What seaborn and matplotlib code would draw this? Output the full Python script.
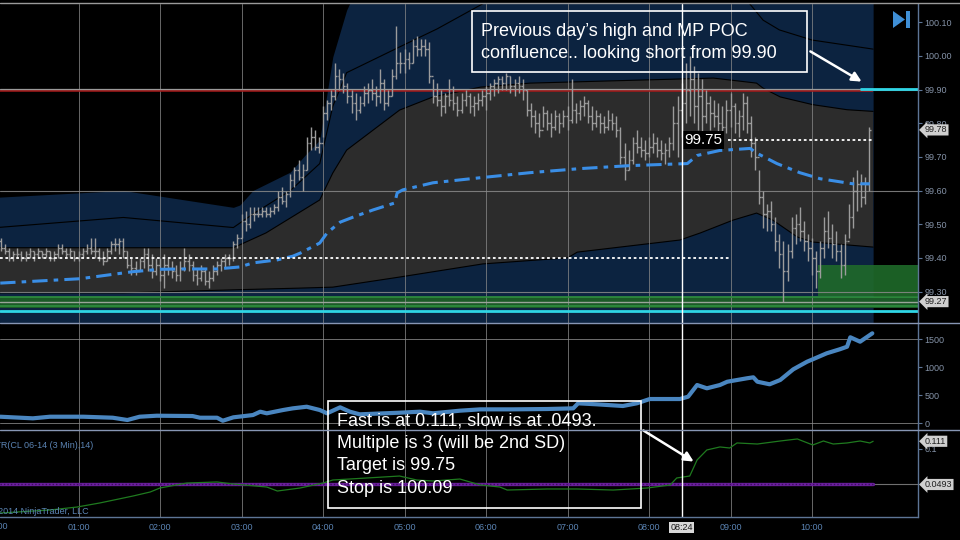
# CL 06-14 3 min chart: price bars with VWAP bands, cumulative line, ATR fast/slow
import numpy as np
import matplotlib
matplotlib.use("Agg")
import matplotlib.pyplot as plt
from matplotlib.patches import Rectangle, Polygon, FancyArrowPatch
import seaborn as sns

# ---------------- data ----------------
# 3 minute bars from 00:00, one row per hour
highs = [
    99.46, 99.46, 99.44, 99.43, 99.42, 99.43, 99.42, 99.42, 99.43, 99.42, 99.43, 99.42, 99.43, 99.42, 99.42, 99.44, 99.44, 99.43, 99.43, 99.42,
    99.42, 99.43, 99.44, 99.46, 99.46, 99.43, 99.42, 99.43, 99.45, 99.46, 99.46, 99.46, 99.42, 99.40, 99.39, 99.40, 99.43, 99.43, 99.41, 99.40,
    99.40, 99.41, 99.40, 99.39, 99.38, 99.39, 99.43, 99.41, 99.39, 99.37, 99.38, 99.37, 99.36, 99.38, 99.39, 99.40, 99.41, 99.41, 99.45, 99.47,
    99.53, 99.54, 99.55, 99.55, 99.55, 99.55, 99.55, 99.55, 99.56, 99.60, 99.61, 99.60, 99.65, 99.67, 99.69, 99.68, 99.76, 99.79, 99.78, 99.76,
    99.85, 99.87, 99.90, 99.98, 99.96, 99.95, 99.92, 99.90, 99.89, 99.88, 99.91, 99.92, 99.93, 99.91, 99.96, 99.93, 99.90, 99.96, 100.09, 100.01,
    100.02, 100.01, 100.05, 100.06, 100.05, 100.05, 100.04, 99.93, 99.92, 99.90, 99.89, 99.93, 99.91, 99.88, 99.89, 99.90, 99.89, 99.88, 99.89, 99.90,
    99.91, 99.92, 99.93, 99.94, 99.94, 99.95, 99.94, 99.93, 99.94, 99.93, 99.90, 99.86, 99.84, 99.83, 99.85, 99.84, 99.83, 99.84, 99.83, 99.84,
    99.85, 99.93, 99.86, 99.87, 99.88, 99.87, 99.85, 99.84, 99.83, 99.82, 99.84, 99.83, 99.82, 99.79, 99.74, 99.72, 99.76, 99.78, 99.76, 99.75,
    99.76, 99.77, 99.76, 99.75, 99.74, 99.76, 99.85, 99.88, 99.92, 99.98, 100.00, 99.97, 99.95, 99.93, 99.90, 99.88, 99.87, 99.86, 99.85, 99.87,
    99.89, 99.86, 99.84, 99.89, 99.88, 99.82, 99.76, 99.66, 99.60, 99.56, 99.57, 99.52, 99.47, 99.45, 99.44, 99.52, 99.53, 99.55, 99.51, 99.47,
    99.46, 99.42, 99.45, 99.52, 99.54, 99.50, 99.48, 99.44, 99.47, 99.56, 99.64, 99.66, 99.65, 99.64, 99.79,
]
lows = [
    99.43, 99.42, 99.41, 99.39, 99.39, 99.40, 99.39, 99.39, 99.40, 99.39, 99.40, 99.40, 99.40, 99.39, 99.39, 99.40, 99.41, 99.40, 99.40, 99.39,
    99.39, 99.40, 99.41, 99.41, 99.40, 99.39, 99.38, 99.39, 99.41, 99.42, 99.41, 99.40, 99.37, 99.35, 99.35, 99.36, 99.37, 99.36, 99.34, 99.35,
    99.33, 99.31, 99.35, 99.34, 99.33, 99.33, 99.36, 99.36, 99.33, 99.32, 99.33, 99.32, 99.31, 99.33, 99.35, 99.36, 99.37, 99.38, 99.39, 99.43,
    99.46, 99.48, 99.49, 99.51, 99.52, 99.52, 99.52, 99.52, 99.53, 99.54, 99.56, 99.55, 99.58, 99.61, 99.63, 99.60, 99.66, 99.72, 99.72, 99.71,
    99.76, 99.81, 99.84, 99.87, 99.90, 99.89, 99.86, 99.83, 99.81, 99.83, 99.85, 99.86, 99.87, 99.85, 99.86, 99.84, 99.85, 99.88, 99.93, 99.95,
    99.95, 99.96, 99.98, 100.00, 100.00, 100.00, 99.92, 99.86, 99.85, 99.82, 99.83, 99.85, 99.84, 99.82, 99.83, 99.85, 99.83, 99.82, 99.84, 99.85,
    99.84, 99.87, 99.88, 99.89, 99.90, 99.90, 99.89, 99.88, 99.89, 99.87, 99.82, 99.79, 99.77, 99.76, 99.79, 99.78, 99.76, 99.78, 99.77, 99.79,
    99.78, 99.80, 99.80, 99.81, 99.82, 99.80, 99.78, 99.79, 99.77, 99.77, 99.78, 99.78, 99.76, 99.68, 99.63, 99.66, 99.68, 99.71, 99.70, 99.69,
    99.70, 99.71, 99.70, 99.69, 99.68, 99.70, 99.72, 99.70, 99.76, 99.80, 99.82, 99.80, 99.78, 99.77, 99.80, 99.78, 99.79, 99.77, 99.75, 99.77,
    99.79, 99.77, 99.76, 99.78, 99.77, 99.70, 99.66, 99.56, 99.49, 99.48, 99.48, 99.42, 99.37, 99.27, 99.33, 99.40, 99.44, 99.45, 99.42, 99.39,
    99.35, 99.31, 99.34, 99.40, 99.43, 99.40, 99.39, 99.34, 99.35, 99.46, 99.49, 99.54, 99.55, 99.56, 99.60,
]
closes = [
    99.45, 99.43, 99.42, 99.40, 99.41, 99.41, 99.40, 99.41, 99.42, 99.41, 99.42, 99.41, 99.42, 99.40, 99.41, 99.43, 99.42, 99.41, 99.42, 99.40,
    99.41, 99.42, 99.43, 99.42, 99.42, 99.40, 99.39, 99.42, 99.44, 99.44, 99.45, 99.42, 99.38, 99.37, 99.36, 99.39, 99.41, 99.38, 99.36, 99.38,
    99.35, 99.38, 99.37, 99.36, 99.35, 99.37, 99.39, 99.38, 99.35, 99.34, 99.36, 99.33, 99.34, 99.36, 99.38, 99.39, 99.40, 99.40, 99.44, 99.46,
    99.51, 99.50, 99.53, 99.53, 99.53, 99.54, 99.53, 99.54, 99.55, 99.58, 99.57, 99.59, 99.63, 99.66, 99.64, 99.66, 99.74, 99.76, 99.73, 99.74,
    99.83, 99.86, 99.88, 99.94, 99.93, 99.91, 99.88, 99.86, 99.84, 99.86, 99.89, 99.90, 99.89, 99.88, 99.92, 99.86, 99.88, 99.94, 99.98, 99.98,
    99.99, 99.98, 100.03, 100.02, 100.03, 100.02, 99.94, 99.88, 99.87, 99.85, 99.88, 99.87, 99.86, 99.84, 99.87, 99.88, 99.85, 99.86, 99.87, 99.88,
    99.89, 99.91, 99.92, 99.93, 99.92, 99.94, 99.91, 99.92, 99.91, 99.90, 99.84, 99.82, 99.80, 99.78, 99.83, 99.80, 99.79, 99.82, 99.80, 99.82,
    99.81, 99.84, 99.83, 99.85, 99.86, 99.82, 99.80, 99.82, 99.80, 99.79, 99.81, 99.80, 99.78, 99.70, 99.66, 99.69, 99.74, 99.73, 99.72, 99.71,
    99.73, 99.74, 99.72, 99.71, 99.72, 99.74, 99.80, 99.84, 99.86, 99.90, 99.93, 99.85, 99.88, 99.82, 99.86, 99.83, 99.82, 99.80, 99.79, 99.84,
    99.85, 99.80, 99.82, 99.86, 99.80, 99.74, 99.70, 99.58, 99.53, 99.54, 99.50, 99.45, 99.41, 99.36, 99.42, 99.49, 99.50, 99.48, 99.45, 99.43,
    99.40, 99.36, 99.43, 99.48, 99.46, 99.44, 99.42, 99.38, 99.45, 99.52, 99.60, 99.62, 99.58, 99.62, 99.78,
]

# VWAP (hours, price)
vwap_t = [0.04, 1.02, 1.67, 2.0, 2.33, 2.7, 2.98, 3.14, 3.44, 3.63, 3.72, 3.96, 4.05, 4.21, 4.37, 4.61, 4.88,
          4.91, 4.98, 5.35, 5.93, 6.54, 7.15, 7.77, 8.47, 8.59, 8.87, 9.24, 9.33, 9.57, 9.85, 10.1, 10.5, 10.71]
vwap_v = [99.325, 99.338, 99.359, 99.366, 99.367, 99.367, 99.373, 99.385, 99.394, 99.405, 99.414, 99.444, 99.474,
          99.506, 99.521, 99.542, 99.563, 99.593, 99.602, 99.623, 99.638, 99.653, 99.665, 99.674, 99.68, 99.704,
          99.719, 99.725, 99.71, 99.68, 99.653, 99.635, 99.62, 99.62]

# outer (navy) band top edge
outer_t = [0.0, 1.55, 2.9, 2.98, 3.14, 3.6, 3.78, 3.96, 4.12, 4.29, 4.6, 10.75]
outer_v = [99.58, 99.60, 99.55, 99.557, 99.60, 99.655, 99.705, 99.75, 99.997, 100.136, 100.30, 100.30]
outer_low = 99.10

# inner (grey) band
inner_up_t = [0.0, 1.55, 2.9, 3.3, 3.96, 4.12, 4.29, 4.94, 5.35, 5.93, 6.54, 8.79, 9.32, 9.4, 9.61, 10.01, 10.43, 10.75]
inner_up_v = [99.43, 99.43, 99.43, 99.474, 99.572, 99.652, 99.72, 99.839, 99.878, 99.907, 99.919, 99.934,
              99.919, 99.904, 99.878, 99.855, 99.84, 99.835]
inner_lo_t = [0.0, 1.55, 2.9, 3.7, 4.12, 4.94, 5.96, 7.0, 7.12, 8.38, 8.63, 9.03, 9.32, 9.52, 9.82, 10.01, 10.75]
inner_lo_v = [99.296, 99.296, 99.305, 99.31, 99.313, 99.343, 99.382, 99.40, 99.417, 99.453, 99.474, 99.512,
              99.533, 99.512, 99.462, 99.447, 99.432]

# thin line inside the upper navy band
band_line_t = [0.0, 1.55, 2.9, 3.14, 3.6, 3.96, 4.12, 4.29, 4.97, 5.4, 6.0, 6.5, 8.0, 9.15, 9.4, 9.6, 10.0, 10.75]
band_line_v = [99.49, 99.52, 99.49, 99.53, 99.60, 99.68, 99.85, 99.95, 100.03, 100.08, 100.16, 100.25, 100.30,
               100.18, 100.106, 100.077, 100.047, 100.02]

# cumulative line (middle panel)
cum_t = [0.04, 0.44, 0.65, 1.06, 1.42, 1.6, 1.75, 1.96, 2.4, 2.49, 2.7, 2.77, 2.9, 3.14, 3.23, 3.31, 3.51, 3.63,
         3.8, 3.96, 4.05, 4.21, 4.33, 4.45, 4.94, 5.19, 5.35, 5.68, 5.93, 6.33, 6.75, 7.07, 7.13, 7.36, 7.68, 7.85,
         8.01, 8.38, 8.48, 8.59, 8.71, 8.87, 8.96, 9.2, 9.28, 9.33, 9.48, 9.61, 9.77, 9.94, 10.01, 10.18, 10.34,
         10.43, 10.47, 10.59, 10.71, 10.74]
cum_v = [113, 84, 113, 113, 95, 54, 113, 131, 125, 95, 95, 41, 102, 143, 203, 174, 233, 263, 292, 233, 174, 281,
         203, 156, 185, 203, 174, 221, 245, 245, 251, 263, 353, 335, 305, 353, 430, 430, 472, 681, 622, 681, 740,
         801, 819, 740, 694, 771, 962, 1099, 1142, 1249, 1321, 1367, 1536, 1457, 1577, 1607]

# ATR fast and slow (bottom panel)
atr_t = [0.04, 0.65, 0.98, 1.26, 1.67, 1.88, 2.0, 2.33, 2.7, 2.9, 3.31, 3.44, 3.72, 4.0, 4.12, 4.54, 4.94, 5.15,
         5.35, 5.68, 5.93, 6.17, 6.26, 6.75, 7.12, 7.56, 7.98, 8.26, 8.34, 8.5, 8.59, 8.71, 8.87, 8.99, 9.08, 9.33,
         9.61, 9.82, 10.01, 10.14, 10.26, 10.43, 10.59, 10.71, 10.75]
atr_v = [0.0086, 0.0129, 0.0171, 0.0229, 0.0329, 0.0386, 0.0443, 0.0514, 0.0529, 0.05, 0.0457, 0.04, 0.0443,
         0.0514, 0.0557, 0.0586, 0.0614, 0.0557, 0.0543, 0.0571, 0.0486, 0.0457, 0.0414, 0.0429, 0.0429, 0.0414,
         0.0443, 0.0486, 0.0586, 0.0614, 0.0843, 0.0986, 0.1029, 0.1014, 0.1086, 0.1071, 0.1114, 0.1143, 0.1057,
         0.1114, 0.1071, 0.1086, 0.1114, 0.1086, 0.111]
slow_t = [0.04, 10.75]
slow_v = [0.0493, 0.0493]

price_ticks = [99.30, 99.40, 99.50, 99.60, 99.70, 99.80, 99.90, 100.00, 100.10]
price_grid = [99.30, 99.60, 99.90]
cum_ticks = [0, 500, 1000, 1500]
hours = list(range(0, 11))
hour_labels = ["%02d:00" % h for h in hours]

# ---------------- style ----------------
sns.set_theme(style="dark", rc={"axes.facecolor": "black", "figure.facecolor": "black"})
plt.rcParams["font.family"] = ["Liberation Sans", "DejaVu Sans"]

W, H = 960, 540
XMIN, XMAX = 3 / 81.5, 921 / 81.5
NAVY = "#0c2340"
GREY_BAND = "#2c2c2c"
GRID = "#8a8a8a"
AXIS = "#5d7596"
LABEL = "#8593a8"
TIME = "#5b84b4"


def P(x, y):
    return (x / W, 1 - y / H)


def panel(top, bottom):
    return [0, 1 - bottom / H, 918 / W, (bottom - top) / H]


fig = plt.figure(figsize=(9.6, 5.4), dpi=100, facecolor="black")
ax_p = fig.add_axes(panel(4, 323))
ax_c = fig.add_axes(panel(323, 430))
ax_a = fig.add_axes(panel(430, 517))

for ax in (ax_p, ax_c, ax_a):
    ax.set_facecolor("black")
    ax.set_xlim(XMIN, XMAX)
    ax.grid(False)
    for s in ("left", "top", "bottom"):
        ax.spines[s].set_visible(False)
    ax.spines["right"].set_color(AXIS)
    ax.spines["right"].set_linewidth(1)
    ax.yaxis.tick_right()
    ax.tick_params(axis="y", direction="out", length=3, width=0.8, color=AXIS,
                   labelcolor=LABEL, labelsize=6.5, pad=1.5)
    for h in hours[1:]:
        ax.axvline(h, color=GRID, lw=0.7, alpha=0.75, zorder=1.5)
    ax.axvline(8.4, color="white", lw=1, zorder=6)  # crosshair at 08:24

# ---------------- price panel ----------------
ax_p.set_ylim(99.2065, 100.154)
ax_p.fill_between(outer_t, outer_v, outer_low, color=NAVY, lw=0, zorder=1)
ax_p.fill(inner_up_t + inner_lo_t[::-1], inner_up_v + inner_lo_v[::-1], color=GREY_BAND, lw=0, zorder=1.1)
ax_p.plot(inner_up_t, inner_up_v, color="black", lw=0.8, zorder=1.2)
ax_p.plot(inner_lo_t, inner_lo_v, color="black", lw=0.8, zorder=1.2)
ax_p.plot(band_line_t, band_line_v, color="black", lw=0.8, zorder=1.2)

for g in price_grid:
    ax_p.axhline(g, color=GRID, lw=0.8, alpha=0.85, zorder=1.5)
ax_p.axhline(99.903, color="#9a9a9a", lw=0.9, zorder=1.55)
ax_p.hlines(99.895, XMIN, 10.75, color="#a51818", lw=1.1, zorder=1.6)
ax_p.hlines(99.902, 10.59, XMAX, color="#2fd6e6", lw=2, zorder=1.7)

# green zones
ax_p.fill_between([10.07, XMAX], 99.287, 99.38, color="#1f6a2a", alpha=0.9, lw=0, zorder=1.4)
ax_p.fill_between([XMIN, XMAX], 99.252, 99.283, color="#1b5a27", lw=0, zorder=1.4)
ax_p.axhline(99.283, color="#2f8f3f", lw=1.2, zorder=1.6)
ax_p.axhline(99.27, color="#9aa59a", lw=1, zorder=1.6)
ax_p.axhline(99.256, color="#2f8f3f", lw=1.2, zorder=1.6)
ax_p.axhline(99.241, color="#2fd6e6", lw=2, zorder=1.7)

# bars
bar_t = np.arange(len(highs)) * 3 / 60
opens = [closes[0]] + closes[:-1]
ax_p.vlines(bar_t, lows, highs, color="#9c9c9c", lw=1, zorder=2)
ax_p.hlines(opens, bar_t - 0.022, bar_t, color="#9c9c9c", lw=1, zorder=2)
ax_p.hlines(closes, bar_t, bar_t + 0.022, color="#9c9c9c", lw=1, zorder=2)

sns.lineplot(x=vwap_t, y=vwap_v, ax=ax_p, color="#3a8ee6", lw=2.2, sort=False, estimator=None,
             linestyle=(0, (5, 2, 1.5, 2)), zorder=3)

ax_p.hlines(99.40, XMIN, 8.99, color="white", lw=1.3, linestyle=(0, (1.5, 1.5)), zorder=3.5)
ax_p.hlines(99.75, 8.97, 10.75, color="white", lw=1.3, linestyle=(0, (1.5, 1.5)), zorder=3.5)
ax_p.text(8.43, 99.75, "99.75", color="white", fontsize=11, ha="left", va="center", zorder=4,
          bbox=dict(boxstyle="square,pad=0.12", fc="black", ec="none"))

ax_p.set_yticks(price_ticks)
ax_p.set_yticklabels(["%.2f" % v for v in price_ticks])
ax_p.set_xticks([])

# ---------------- cumulative panel ----------------
ax_c.set_ylim(-125, 1792)
ax_c.axhline(1500, color=GRID, lw=0.7, alpha=0.8, zorder=1.5)
ax_c.axhline(0, color=GRID, lw=0.7, alpha=0.8, zorder=1.5)
sns.lineplot(x=cum_t, y=cum_v, ax=ax_c, color="#4a86c0", lw=3, sort=False, estimator=None, zorder=3)
ax_c.set_yticks(cum_ticks)
ax_c.set_yticklabels([str(v) for v in cum_ticks])
ax_c.set_xticks([])

# ---------------- ATR panel ----------------
ax_a.set_ylim(0.0029, 0.1271)
ax_a.axhline(0.0493, color="#707070", lw=0.8, zorder=1.5)
ax_a.plot(slow_t, slow_v, color="#6b1f9c", lw=2.4, zorder=2)
ax_a.plot(slow_t, slow_v, color="#3b0f5e", lw=1, linestyle=(0, (1, 1.5)), zorder=2.1)
sns.lineplot(x=atr_t, y=atr_v, ax=ax_a, color="#1f7a1f", lw=0.9, sort=False, estimator=None, zorder=3)
ax_a.set_yticks([0.1])
ax_a.set_yticklabels(["0.1"])
ax_a.set_xticks(hours[1:])
ax_a.set_xticklabels(hour_labels[1:])
ax_a.tick_params(axis="x", length=0, pad=4, labelcolor=TIME, labelsize=6.5)
ax_a.text(0, -0.105, hour_labels[0], transform=ax_a.get_xaxis_transform(), ha="center", va="center",
          color=TIME, fontsize=6.5, clip_on=False)
ax_a.annotate("08:24", xy=(8.4, 0), xycoords=ax_a.get_xaxis_transform(), xytext=(0, -7.5),
              textcoords="offset points", ha="center", va="center", fontsize=6.5, color="#1a1a1a",
              bbox=dict(boxstyle="square,pad=0.15", fc="#d8d8d8", ec="none"), annotation_clip=False)
for ax in (ax_p, ax_c, ax_a):
    ax.set_xlabel("")
    ax.set_ylabel("")

# price markers on the right axis
for ax, val, txt in ((ax_p, 99.78, "99.78"), (ax_p, 99.27, "99.27"), (ax_a, 0.111, "0.111"),
                     (ax_a, 0.0493, "0.0493")):
    ax.annotate(txt, xy=(1, val), xycoords=ax.get_yaxis_transform(), xytext=(5, 0),
                textcoords="offset points", ha="left", va="center", fontsize=6.5, color="#202020",
                bbox=dict(boxstyle="larrow,pad=0.12", fc="#cfcfcf", ec="none"), annotation_clip=False,
                zorder=8)

# ---------------- frame lines, labels, notes ----------------
fig.add_artist(plt.Line2D([0, 1], [P(0, 3)[1]] * 2, color="#9a9a9a", lw=1))
fig.add_artist(plt.Line2D([0, 1], [P(0, 323)[1]] * 2, color="#8796b4", lw=1))
fig.add_artist(plt.Line2D([0, 1], [P(0, 430)[1]] * 2, color="#8796b4", lw=1))
fig.add_artist(plt.Line2D([0, 918 / W], [P(0, 517)[1]] * 2, color=AXIS, lw=1))

fig.text(*P(-10, 445), "ATR(CL 06-14 (3 Min),14)", color=TIME, fontsize=6.5, va="center", ha="left")
fig.text(*P(-11, 512), "© 2014 NinjaTrader, LLC", color=TIME, fontsize=6.5, va="center", ha="left")

# play-to-end icon
fig.add_artist(Polygon([P(893, 11), P(893, 28), P(905, 19.5)], closed=True, transform=fig.transFigure,
                       fc="#3f8fd6", ec="none"))
fig.add_artist(Rectangle(P(906, 28), 4 / W, 17 / H, transform=fig.transFigure, fc="#3f8fd6", ec="none"))

# note 1
fig.add_artist(Rectangle(P(472, 72), (807 - 472) / W, (72 - 11) / H, transform=fig.transFigure,
                         fill=False, ec="white", lw=1.2))
fig.text(*P(481, 32), "Previous day\u2019s high and MP POC", color="white", fontsize=13, va="center")
fig.text(*P(481, 54), "confluence.. looking short from 99.90", color="white", fontsize=13, va="center")
fig.add_artist(FancyArrowPatch(P(808, 50), P(864, 83), transform=fig.transFigure, arrowstyle="-|>",
                               mutation_scale=14, color="white", lw=1.8))

# note 2
fig.add_artist(Rectangle(P(328, 508), (641 - 328) / W, (508 - 401) / H, transform=fig.transFigure,
                         fill=False, ec="white", lw=1.2))
note2 = ["Fast is at 0.111, slow is at .0493.", "Multiple is 3 (will be 2nd SD)", "Target is 99.75",
         "Stop is 100.09"]
for i, line in enumerate(note2):
    fig.text(*P(337, 421 + 22.4 * i), line, color="white", fontsize=13, va="center")
fig.add_artist(FancyArrowPatch(P(641, 429), P(696, 463), transform=fig.transFigure, arrowstyle="-|>",
                               mutation_scale=14, color="white", lw=1.8))

fig.savefig("out.png", dpi=100, facecolor="black")
